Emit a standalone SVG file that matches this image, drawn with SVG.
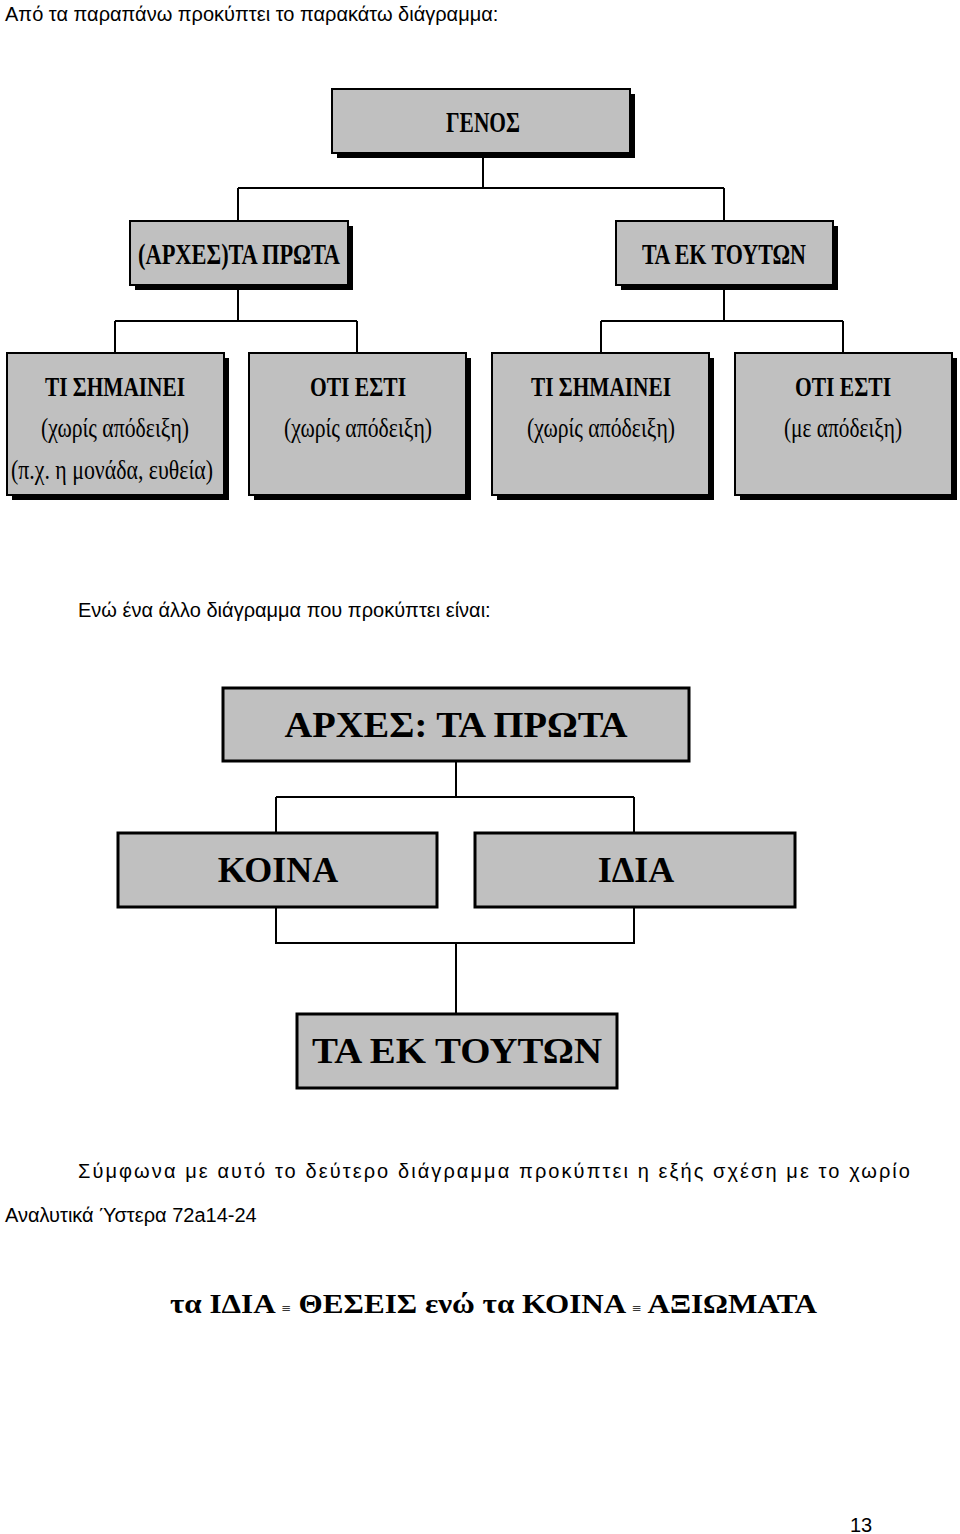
<svg xmlns="http://www.w3.org/2000/svg" width="960" height="1534" viewBox="0 0 960 1534">
<style>
.t{font-family:"Liberation Sans",Arial,sans-serif;font-size:20px;fill:#000}
.n{font-family:"Liberation Serif","Times New Roman",serif;fill:#000;text-anchor:middle}
.b1{fill:#c0c0c0;stroke:#000;stroke-width:2}
.sh{fill:#000}
.b2{fill:#c0c0c0;stroke:#000;stroke-width:3}
.c{fill:none;stroke:#000;stroke-width:2}
</style>
<rect width="960" height="1534" fill="#fff"/>
<text class="t" x="5" y="21">Από τα παραπάνω προκύπτει το παρακάτω διάγραμμα:</text>
<g id="connectors">
<path class="c" d="M483 153V188M238 188H724M238 188V221M724 188V221"/>
<path class="c" d="M238 285V321M115 321H357M115 321V353M357 321V353"/>
<path class="c" d="M724 285V321M601 321H843M601 321V353M843 321V353"/>
<path class="c" d="M456 761V797M276 797H634M276 797V833M634 797V833"/>
<path class="c" d="M276 907V943H634V907M456 943V1014"/>
</g>
<g id="genos"><rect class="sh" x="337" y="94" width="298" height="64"/><rect class="b1" x="332" y="89" width="298" height="64"/><text class="n" x="483" y="132" font-size="30" font-weight="bold" textLength="74" lengthAdjust="spacingAndGlyphs">ΓΕΝΟΣ</text></g>
<g id="prota"><rect class="sh" x="135" y="226" width="218" height="64"/><rect class="b1" x="130" y="221" width="218" height="64"/><text class="n" x="239" y="264" font-size="30" font-weight="bold" textLength="202" lengthAdjust="spacingAndGlyphs">(ΑΡΧΕΣ)ΤΑ ΠΡΩΤΑ</text></g>
<g id="ek"><rect class="sh" x="621" y="226" width="217" height="64"/><rect class="b1" x="616" y="221" width="217" height="64"/><text class="n" x="724" y="264" font-size="30" font-weight="bold" textLength="164" lengthAdjust="spacingAndGlyphs">ΤΑ ΕΚ ΤΟΥΤΩΝ</text></g>
<g id="n1"><rect class="sh" x="12" y="358" width="217" height="142"/><rect class="b1" x="7" y="353" width="217" height="142"/>
<text class="n" x="115" y="396" font-size="28" font-weight="bold" textLength="140" lengthAdjust="spacingAndGlyphs">ΤΙ ΣΗΜΑΙΝΕΙ</text>
<text class="n" x="115" y="437" font-size="28" textLength="148" lengthAdjust="spacingAndGlyphs">(χωρίς απόδειξη)</text>
<text class="n" x="112" y="479" font-size="28" textLength="202" lengthAdjust="spacingAndGlyphs">(π.χ. η μονάδα, ευθεία)</text></g>
<g id="n2"><rect class="sh" x="254" y="358" width="217" height="142"/><rect class="b1" x="249" y="353" width="217" height="142"/>
<text class="n" x="358" y="396" font-size="28" font-weight="bold" textLength="96" lengthAdjust="spacingAndGlyphs">ΟΤΙ ΕΣΤΙ</text>
<text class="n" x="358" y="437" font-size="28" textLength="148" lengthAdjust="spacingAndGlyphs">(χωρίς απόδειξη)</text></g>
<g id="n3"><rect class="sh" x="497" y="358" width="217" height="142"/><rect class="b1" x="492" y="353" width="217" height="142"/>
<text class="n" x="601" y="396" font-size="28" font-weight="bold" textLength="140" lengthAdjust="spacingAndGlyphs">ΤΙ ΣΗΜΑΙΝΕΙ</text>
<text class="n" x="601" y="437" font-size="28" textLength="148" lengthAdjust="spacingAndGlyphs">(χωρίς απόδειξη)</text></g>
<g id="n4"><rect class="sh" x="740" y="358" width="217" height="142"/><rect class="b1" x="735" y="353" width="217" height="142"/>
<text class="n" x="843" y="396" font-size="28" font-weight="bold" textLength="96" lengthAdjust="spacingAndGlyphs">ΟΤΙ ΕΣΤΙ</text>
<text class="n" x="843" y="437" font-size="28" textLength="118" lengthAdjust="spacingAndGlyphs">(με απόδειξη)</text></g>
<text class="t" x="78" y="617">Ενώ ένα άλλο διάγραμμα που προκύπτει είναι:</text>
<g id="archai"><rect class="b2" x="223" y="688" width="466" height="73"/><text class="n" x="456" y="737" font-size="36" font-weight="bold" textLength="343" lengthAdjust="spacingAndGlyphs">ΑΡΧΕΣ: ΤΑ ΠΡΩΤΑ</text></g>
<g id="koina"><rect class="b2" x="118" y="833" width="319" height="74"/><text class="n" x="278" y="882" font-size="36" font-weight="bold">ΚΟΙΝΑ</text></g>
<g id="idia"><rect class="b2" x="475" y="833" width="320" height="74"/><text class="n" x="636" y="882" font-size="36" font-weight="bold">ΙΔΙΑ</text></g>
<g id="ektouton"><rect class="b2" x="297" y="1014" width="320" height="74"/><text class="n" x="457" y="1063" font-size="36" font-weight="bold" textLength="290" lengthAdjust="spacingAndGlyphs">ΤΑ ΕΚ ΤΟΥΤΩΝ</text></g>
<text class="t" x="78" y="1178" textLength="832" lengthAdjust="spacing">Σύμφωνα με αυτό το δεύτερο διάγραμμα προκύπτει η εξής σχέση με το χωρίο</text>
<text class="t" x="5" y="1222">Αναλυτικά Ύστερα 72a14-24</text>
<text x="170" y="1313" font-family="Liberation Serif,serif" font-size="27" font-weight="bold" textLength="647" lengthAdjust="spacingAndGlyphs">τα ΙΔΙΑ <tspan font-size="14" font-weight="normal">≡</tspan> ΘΕΣΕΙΣ ενώ τα ΚΟΙΝΑ <tspan font-size="14" font-weight="normal">≡</tspan> ΑΞΙΩΜΑΤΑ</text>
<text class="t" x="850" y="1532">13</text>
</svg>
